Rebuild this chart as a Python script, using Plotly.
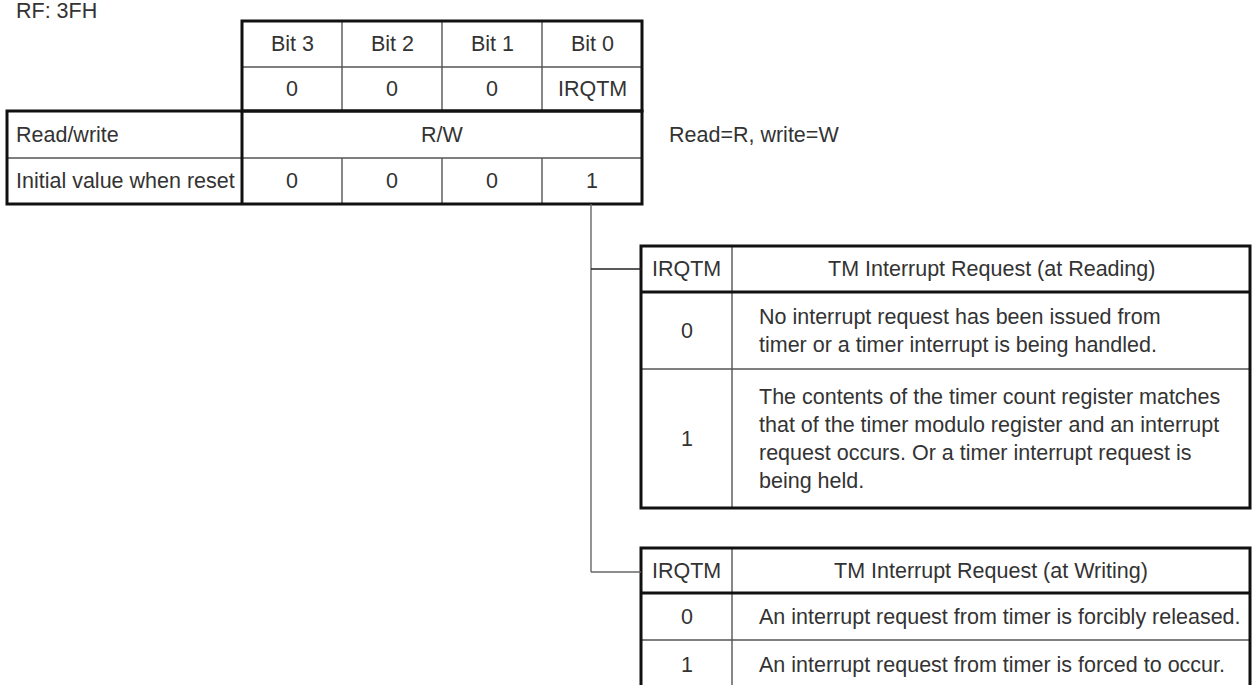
import plotly.graph_objects as go

# ---------------- data ----------------
register_name = "RF: 3FH"
bit_labels = ["Bit 3", "Bit 2", "Bit 1", "Bit 0"]
bit_names = ["0", "0", "0", "IRQTM"]
row_labels = ["Read/write", "Initial value when reset"]
rw_value = "R/W"
reset_values = ["0", "0", "0", "1"]
rw_note = "Read=R, write=W"

read_header = ["IRQTM", "TM Interrupt Request (at Reading)"]
read_values = ["0", "1"]
read_desc = [
    "No interrupt request has been issued from<br>timer or a timer interrupt is being handled.",
    "The contents of the timer count register matches<br>that of the timer modulo register and an interrupt<br>request occurs. Or a timer interrupt request is<br>being held.",
]

write_header = ["IRQTM", "TM Interrupt Request (at Writing)"]
write_values = ["0", "1"]
write_desc = [
    "An interrupt request from timer is forcibly released.",
    "An interrupt request from timer is forced to occur.",
]

# ---------------- layout geometry ----------------
W, H = 1255, 685
FONT = "Liberation Sans, Arial, sans-serif"
FS = 21.5
TXT = "#333333"
THICK = dict(color="#111111", width=3)
THIN = dict(color="#555555", width=1.4)

shapes = []
annotations = []


def line(x0, y0, x1, y1, style):
    shapes.append(dict(type="line", x0=x0, y0=y0, x1=x1, y1=y1,
                       xref="x", yref="y", line=style))


def rect(x0, y0, x1, y1, style):
    shapes.append(dict(type="rect", x0=x0, y0=y0, x1=x1, y1=y1,
                       xref="x", yref="y", line=style, fillcolor="rgba(0,0,0,0)"))


def text(x, y, s, anchor="center"):
    annotations.append(dict(x=x, y=y, text=s, showarrow=False, xref="x", yref="y",
                            xanchor=anchor, yanchor="middle", align="left",
                            font=dict(family=FONT, size=FS, color=TXT)))


# top register table
left_x = 7
col_x0 = 242
col_w = 100
ncol = len(bit_labels)
col_x1 = col_x0 + ncol * col_w
rows_y = [21, 67, 111, 158, 204]

for i in range(1, ncol):
    x = col_x0 + i * col_w
    line(x, rows_y[0], x, rows_y[2], THIN)
    line(x, rows_y[3], x, rows_y[4], THIN)
line(col_x0, rows_y[1], col_x1, rows_y[1], THIN)
line(left_x, rows_y[3], col_x1, rows_y[3], THIN)
rect(col_x0, rows_y[0], col_x1, rows_y[2], THICK)
rect(left_x, rows_y[2], col_x1, rows_y[4], THICK)
line(col_x0, rows_y[2], col_x0, rows_y[4], THICK)

text(14, 11, register_name, "left")
for i, (b, n, r) in enumerate(zip(bit_labels, bit_names, reset_values)):
    cx = col_x0 + (i + 0.5) * col_w
    text(cx, (rows_y[0] + rows_y[1]) / 2, b)
    text(cx, (rows_y[1] + rows_y[2]) / 2, n)
    text(cx, (rows_y[3] + rows_y[4]) / 2, r)
text((col_x0 + col_x1) / 2, (rows_y[2] + rows_y[3]) / 2, rw_value)
text(left_x + 7, (rows_y[2] + rows_y[3]) / 2, row_labels[0], "left")
text(left_x + 7, (rows_y[3] + rows_y[4]) / 2, row_labels[1], "left")
text(667, (rows_y[2] + rows_y[3]) / 2, rw_note, "left")

# description tables
tx0, tsep, tx1 = 641, 732, 1250
desc_x = 757
conn_x = 591


def desc_table(ys, header, values, descs):
    for y in ys[2:-1]:
        line(tx0, y, tx1, y, THIN)
    line(tsep, ys[0], tsep, ys[-1], THIN)
    rect(tx0, ys[0], tx1, ys[-1], THICK)
    line(tx0, ys[1], tx1, ys[1], THICK)
    hy = (ys[0] + ys[1]) / 2
    text((tx0 + tsep) / 2, hy, header[0])
    text((tsep + tx1) / 2, hy, header[1])
    for k, (v, d) in enumerate(zip(values, descs)):
        cy = (ys[k + 1] + ys[k + 2]) / 2
        text((tx0 + tsep) / 2, cy, v)
        text(desc_x, cy, d, "left")
    return hy


read_y = [246, 292, 369, 508]
write_y = [548, 593, 640, 690]
hy_r = desc_table(read_y, read_header, read_values, read_desc)
hy_w = desc_table(write_y, write_header, write_values, write_desc)

CONN = dict(color="#666666", width=1.4)
line(conn_x, rows_y[4], conn_x, hy_w + 1.5, CONN)
line(conn_x, hy_r, tx0, hy_r, dict(color="#222222", width=1.4))
line(conn_x, hy_w + 1.5, tx0, hy_w + 1.5, CONN)

fig = go.Figure()
fig.add_trace(go.Scatter(x=[0, W], y=[0, H], mode="markers",
                         marker=dict(opacity=0), hoverinfo="skip", showlegend=False))
fig.update_layout(
    width=W, height=H,
    margin=dict(l=0, r=0, t=0, b=0),
    paper_bgcolor="white", plot_bgcolor="white",
    xaxis=dict(range=[0, W], visible=False, fixedrange=True),
    yaxis=dict(range=[H, 0], visible=False, fixedrange=True),
    shapes=shapes, annotations=annotations,
    showlegend=False,
)
fig.write_html(
    "out.html",
    config={"displayModeBar": False},
    post_script="document.body.style.margin='0px';document.body.style.overflow='hidden';",
)
